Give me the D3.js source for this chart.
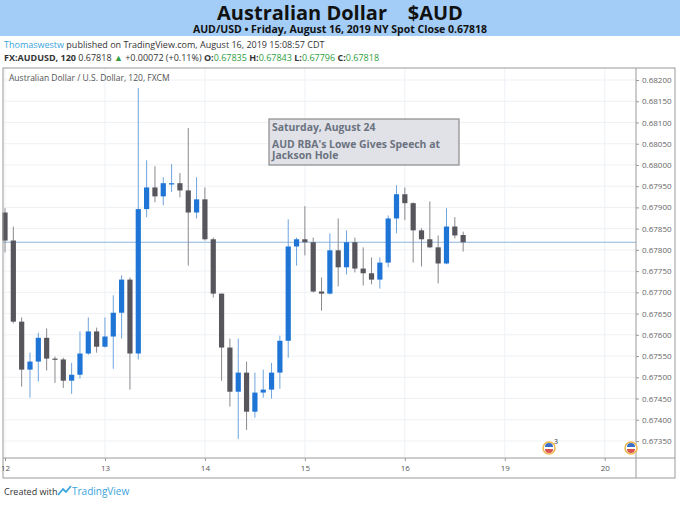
<!DOCTYPE html>
<html>
<head>
<meta charset="utf-8">
<script src="https://cdn.jsdelivr.net/npm/d3@7"></script>
<style>
  body { margin: 0; background: #fff; }
  text { font-family: "Open Sans", "Liberation Sans", sans-serif; }
</style>
</head>
<body>
<div id="chart"></div>
<script>
// 2h candles, AUD/USD Aug 12-16 2019
const opens  = [0.67888,0.67822,0.67631,0.67518,0.67537,0.67593,0.67544,0.67542,0.67492,0.67506,0.67556,0.67608,0.67572,0.67596,
    0.67652,0.67730,0.67556,0.67896,0.67947,0.67926,0.67954,0.67957,0.67940,0.67888,0.67919,0.67825,0.67697,0.67570,
    0.67466,0.67511,0.67419,0.67464,0.67471,0.67511,0.67586,0.67808,0.67825,0.67818,0.67702,0.67697,0.67799,0.67759,
    0.67818,0.67756,0.67745,0.67730,0.67770,0.67874,0.67931,0.67910,0.67846,0.67825,0.67806,0.67768,0.67855,0.67835];
const highs  = [0.67898,0.67855,0.67641,0.67558,0.67605,0.67615,0.67549,0.67546,0.67534,0.67608,0.67641,0.67617,0.67641,0.67693,
    0.67740,0.67735,0.68181,0.68011,0.67997,0.67971,0.68002,0.67981,0.68087,0.67971,0.67947,0.67829,0.67697,0.67591,
    0.67591,0.67537,0.67511,0.67518,0.67534,0.67598,0.67872,0.67829,0.67903,0.67829,0.67735,0.67839,0.67874,0.67846,
    0.67829,0.67806,0.67782,0.67782,0.67881,0.67952,0.67947,0.67912,0.67851,0.67914,0.67834,0.67898,0.67877,0.67843];
const lows   = [0.67794,0.67627,0.67478,0.67452,0.67490,0.67516,0.67487,0.67475,0.67461,0.67497,0.67553,0.67558,0.67570,0.67520,
    0.67591,0.67471,0.67542,0.67877,0.67912,0.67905,0.67936,0.67924,0.67763,0.67874,0.67822,0.67688,0.67492,0.67431,
    0.67355,0.67376,0.67405,0.67452,0.67450,0.67473,0.67546,0.67763,0.67787,0.67700,0.67657,0.67695,0.67714,0.67742,
    0.67747,0.67716,0.67719,0.67709,0.67759,0.67839,0.67870,0.67770,0.67761,0.67804,0.67721,0.67766,0.67827,0.67796];
const closes = [0.67822,0.67631,0.67518,0.67537,0.67593,0.67544,0.67542,0.67492,0.67506,0.67556,0.67608,0.67572,0.67596,0.67652,
    0.67730,0.67556,0.67896,0.67947,0.67926,0.67957,0.67957,0.67940,0.67888,0.67919,0.67825,0.67697,0.67570,0.67466,
    0.67511,0.67419,0.67464,0.67471,0.67511,0.67586,0.67808,0.67825,0.67818,0.67702,0.67697,0.67799,0.67759,0.67818,
    0.67756,0.67745,0.67730,0.67770,0.67874,0.67931,0.67910,0.67846,0.67825,0.67806,0.67768,0.67855,0.67834,0.67818];
const dayLabels = ["12", "13", "14", "15", "16", "19", "20"];
const dayIndex = [0, 12, 24, 36, 48, 60, 72];
const priceTicks = d3.range(0.6735, 0.68201, 0.0005);
const lastClose = 0.67818;

const W = 680, H = 510;
const plotLeft = 3, plotRight = 636, plotTop = 68, plotBottom = 458;

const svg = d3.select("#chart").append("svg").attr("width", W).attr("height", H);

// header
svg.append("rect").attr("width", W).attr("height", 36).attr("fill", "#a3cdf6");
svg.append("text").attr("x", 340).attr("y", 20).attr("text-anchor", "middle")
    .attr("font-size", 20).attr("font-weight", "bold").attr("fill", "#111")
    .attr("font-family", "Liberation Sans, Arial, sans-serif")
    .attr("xml:space", "preserve").text("Australian Dollar    $AUD");
svg.append("text").attr("x", 340).attr("y", 33).attr("text-anchor", "middle")
    .attr("font-size", 10.5).attr("font-weight", "bold").attr("fill", "#111")
    .attr("font-family", "Liberation Sans, Arial, sans-serif")
    .text("AUD/USD • Friday, August 16, 2019 NY  Spot Close 0.67818");

const info = svg.append("text").attr("x", 4).attr("y", 48).attr("font-size", 9).attr("fill", "#333");
info.append("tspan").attr("fill", "#3ba4dc").text("Thomaswestw");
info.append("tspan").text(" published on TradingView.com, August 16, 2019 15:08:57 CDT");

const ohlc = svg.append("text").attr("x", 4).attr("y", 61).attr("font-size", 9).attr("fill", "#333");
ohlc.append("tspan").attr("font-weight", "bold").text("FX:AUDUSD, 120 ");
ohlc.append("tspan").text("0.67818 ");
ohlc.append("tspan").attr("fill", "#2e9e3e").text("▲");
ohlc.append("tspan").text(" +0.00072 (+0.11%) ");
[["O:", "0.67835"], ["H:", "0.67843"], ["L:", "0.67796"], ["C:", "0.67818"]].forEach(function(p) {
    ohlc.append("tspan").attr("font-weight", "bold").text(p[0]);
    ohlc.append("tspan").attr("fill", "#2e9e3e").text(p[1] + " ");
});

const x = d3.scaleLinear().domain([0, 1]).range([5, 13.33]);
const y = d3.scaleLinear().domain([0.682, 0.6735]).range([80, 441]);

const g = svg.append("g");

// grid
g.selectAll(".hgrid").data(priceTicks).enter().append("line")
    .attr("x1", plotLeft).attr("x2", plotRight)
    .attr("y1", d => y(d)).attr("y2", d => y(d))
    .attr("stroke", "#eef1f5");
g.selectAll(".vgrid").data(dayIndex).enter().append("line")
    .attr("x1", d => x(d)).attr("x2", d => x(d))
    .attr("y1", plotTop).attr("y2", plotBottom)
    .attr("stroke", "#eef1f5");

// frame
svg.append("rect").attr("x", plotLeft).attr("y", plotTop).attr("width", 672).attr("height", 410)
    .attr("fill", "none").attr("stroke", "#9a9a9a");
svg.append("line").attr("x1", plotRight).attr("x2", plotRight).attr("y1", plotTop).attr("y2", 478).attr("stroke", "#9a9a9a");
svg.append("line").attr("x1", plotLeft).attr("x2", 675).attr("y1", plotBottom).attr("y2", plotBottom).attr("stroke", "#9a9a9a");

// y axis
const yAxis = d3.axisRight(y).tickValues(priceTicks).tickFormat(d3.format(".5f")).tickSize(3).tickPadding(3);
svg.append("g").attr("transform", "translate(" + plotRight + ",0)").call(yAxis)
    .call(a => a.select(".domain").remove())
    .call(a => a.selectAll("line").attr("stroke", "#999"))
    .call(a => a.selectAll("text").attr("font-size", 8).attr("fill", "#666"));

// x axis
const xAxis = d3.axisBottom(x).tickValues(dayIndex).tickFormat((d, i) => dayLabels[i]).tickSize(3).tickPadding(4);
svg.append("g").attr("transform", "translate(0," + plotBottom + ")").call(xAxis)
    .call(a => a.select(".domain").remove())
    .call(a => a.selectAll("line").attr("stroke", "#999"))
    .call(a => a.selectAll("text").attr("font-size", 8).attr("fill", "#555"));

// last close line
g.append("line").attr("x1", plotLeft).attr("x2", plotRight)
    .attr("y1", y(lastClose)).attr("y2", y(lastClose))
    .attr("stroke", "#8cb4de");

// candles
const candles = opens.map((o, i) => ({ i: i, o: o, h: highs[i], l: lows[i], c: closes[i] }));
const upCol = "#1f75d6", downCol = "#56565c";
const cg = g.selectAll(".candle").data(candles).enter().append("g").attr("class", "candle");
cg.append("line")
    .attr("x1", d => x(d.i)).attr("x2", d => x(d.i))
    .attr("y1", d => y(d.h)).attr("y2", d => y(d.l))
    .attr("stroke", d => d.c >= d.o ? "#6fa4de" : "#8a8a8e").attr("stroke-width", 1);
cg.append("rect")
    .attr("x", d => x(d.i) - 2.6).attr("width", 5.2)
    .attr("y", d => y(Math.max(d.o, d.c)))
    .attr("height", d => Math.max(1.2, Math.abs(y(d.o) - y(d.c))))
    .attr("fill", d => d.c >= d.o ? upCol : downCol);

// chart title
svg.append("text").attr("x", 9).attr("y", 81).attr("font-size", 8.5).attr("fill", "#555")
    .text("Australian Dollar / U.S. Dollar, 120, FXCM");

// annotation
const ann = svg.append("g");
ann.append("rect").attr("x", 269).attr("y", 119).attr("width", 190).attr("height", 46)
    .attr("fill", "#e1e2e8").attr("stroke", "#8a8a8a").attr("stroke-width", 1.2);
[["Saturday, August 24", 131], ["AUD RBA's Lowe Gives Speech at", 147.5], ["Jackson Hole", 158.5]].forEach(function(t) {
    ann.append("text").attr("x", 272).attr("y", t[1]).attr("font-weight", "bold")
        .attr("fill", "#6b7280").attr("font-family", "DejaVu Sans, sans-serif").attr("font-size", 10.4).text(t[0]);
});

// event markers
[[549, "3"], [631, ""]].forEach(function(m) {
    const e = svg.append("g").attr("transform", "translate(" + m[0] + ",448)");
    e.append("circle").attr("r", 6).attr("fill", "#fff").attr("stroke", "#f0b84a").attr("stroke-width", 1.5);
    e.append("path").attr("d", "M-4,-1 A4,4 0 0 1 4,-1 Z").attr("fill", "#3b6fc7");
    e.append("path").attr("d", "M-4,1 A4,4 0 0 0 4,1 Z").attr("fill", "#d9534f");
    if (m[1]) e.append("text").attr("x", 5).attr("y", -4).attr("font-size", 7).attr("fill", "#333").text(m[1]);
});

// footer
svg.append("text").attr("x", 4).attr("y", 495).attr("font-size", 9).attr("fill", "#333").text("Created with");
svg.append("path").attr("d", "M58,495 l5,-6 l3,3 l5,-6").attr("fill", "none").attr("stroke", "#3ba4dc").attr("stroke-width", 1.8);
svg.append("text").attr("x", 72).attr("y", 495).attr("font-size", 10).attr("fill", "#3ba4dc").text("TradingView");
</script>
</body>
</html>
